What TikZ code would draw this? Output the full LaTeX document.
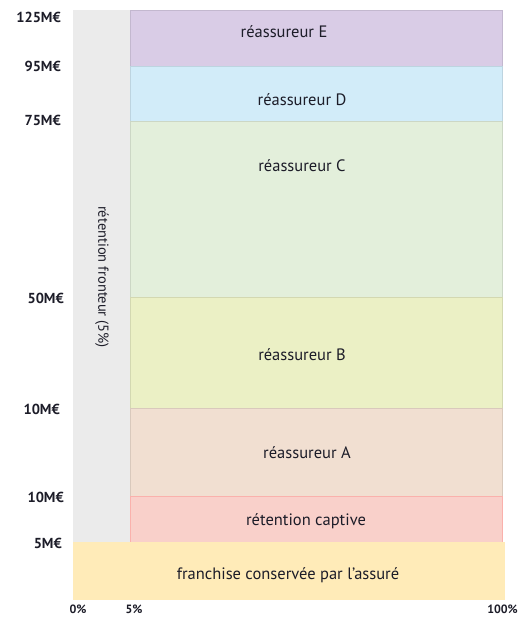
\documentclass[tikz,border=0pt]{standalone}
\usepackage{fontspec}
\setmainfont{PT Sans}
\usetikzlibrary{calc}

\definecolor{txt}{HTML}{1C1C28}
\definecolor{cE}{HTML}{D9CCE6}
\definecolor{cD}{HTML}{D2ECF9}
\definecolor{cC}{HTML}{E3EFDB}
\definecolor{cB}{HTML}{EBF0C5}
\definecolor{cA}{HTML}{F1DFD1}
\definecolor{cK}{HTML}{F9D0CA}
\definecolor{cF}{HTML}{FFEBB8}
\definecolor{cG}{HTML}{EBEBEB}

\tikzset{
  lab/.style={inner sep=0pt,text=txt,font=\fontsize{16.5}{18}\selectfont},
  tick/.style={inner sep=0pt,text=txt,font=\fontsize{14.5}{16}\selectfont\bfseries},
  pct/.style={inner sep=0pt,text=txt,font=\fontsize{12}{14}\selectfont\bfseries},
}

\begin{document}
\begin{tikzpicture}[x=1pt,y=-1pt]
\useasboundingbox (0,0) rectangle (520,618);
% axis corners
\coordinate (o0) at (73,542);
\coordinate (o5) at (130,542);
\coordinate (t0) at (73,10);
\coordinate (t5) at (130,10);

% fronting column
\fill[cG] (t0) rectangle (o5);
\node[lab,rotate=-90,font=\fontsize{14.5}{16}\selectfont] (front) at (102,277) {rétention fronteur (5\%)};

% layers
\filldraw[fill=cE,draw=cE!90!black,line width=0.4pt] (t5) rectangle (502,66);
\filldraw[fill=cD,draw=cD!90!black,line width=0.4pt] (130,66) rectangle (502,121);
\filldraw[fill=cC,draw=cC!90!black,line width=0.4pt] (130,121) rectangle (502,297);
\filldraw[fill=cB,draw=cB!90!black,line width=0.4pt] (130,297) rectangle (502,408);
\filldraw[fill=cA,draw=cA!90!black,line width=0.4pt] (130,408) rectangle (502,496);
\filldraw[fill=cK,draw=cK!85!red,line width=0.6pt] (130,496) rectangle (502,542);
\fill[cF] (o0) rectangle (505,600);

\node[lab] (rE) at (284,32) {réassureur E};
\node[lab] (rD) at (302,100) {réassureur D};
\node[lab] (rC) at (302,166) {réassureur C};
\node[lab] (rB) at (302,355) {réassureur B};
\node[lab] (rA) at (307,453) {réassureur A};
\node[lab] (rK) at (306,521) {rétention captive};
\node[lab] (rF) at (288,575) {franchise conservée par l'assuré};

% amounts
\node[tick,anchor=east] (m125) at (61,17) {125M€};
\node[tick,anchor=east] (m95) at (61,66) {95M€};
\node[tick,anchor=east] (m75) at (61,120) {75M€};
\node[tick,anchor=east] (m50) at (64,298) {50M€};
\node[tick,anchor=east] (m10a) at (60,409) {10M€};
\node[tick,anchor=east] (m10b) at (64,497) {10M€};
\node[tick,anchor=east] (m5) at (62,543) {5M€};

% percentages
\node[pct,anchor=base] (p0) at (78,613) {0\%};
\node[pct,anchor=base] (p5) at (134,613) {5\%};
\node[pct,anchor=base east] (p100) at (518,613) {100\%};
\end{tikzpicture}
\end{document}
